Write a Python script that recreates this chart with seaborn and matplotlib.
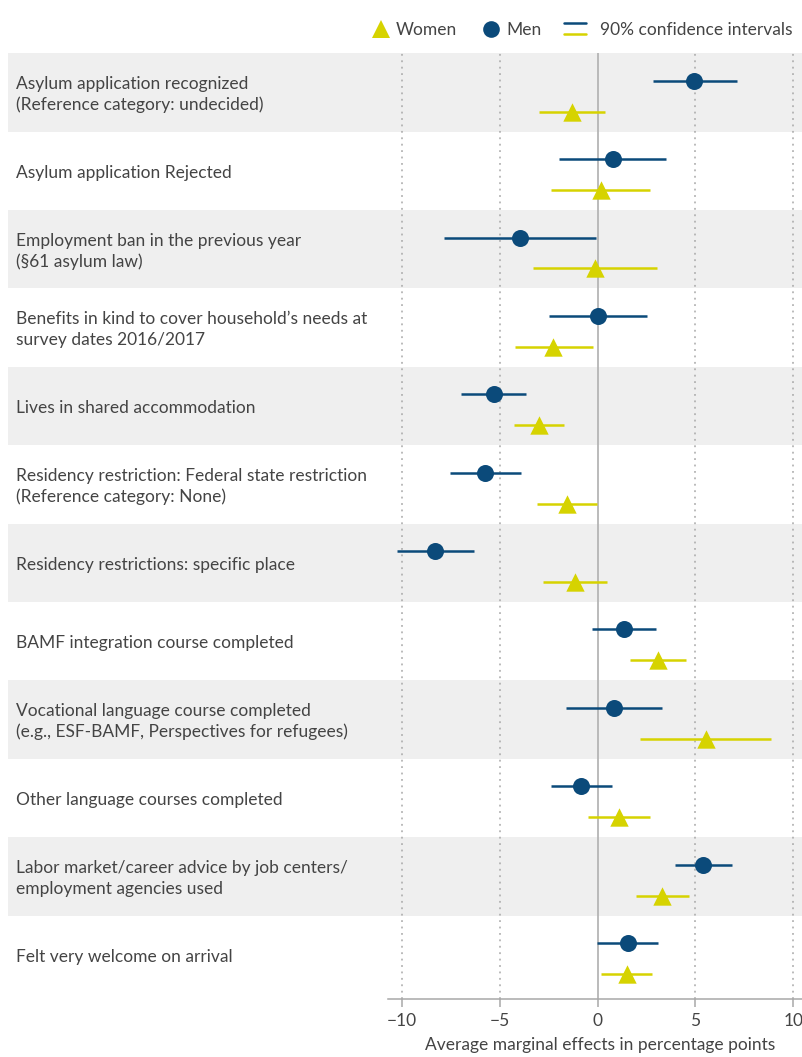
import numpy as np
import pandas as pd
import matplotlib
matplotlib.use("Agg")
import matplotlib.pyplot as plt
from matplotlib.lines import Line2D
from matplotlib.legend_handler import HandlerBase
import matplotlib.transforms as mtransforms
import seaborn as sns

# categories, top to bottom
categories = [
    "Asylum application recognized\n(Reference category: undecided)",
    "Asylum application Rejected",
    "Employment ban in the previous year\n(§61 asylum law)",
    "Benefits in kind to cover household’s needs at\nsurvey dates 2016/2017",
    "Lives in shared accommodation",
    "Residency restriction: Federal state restriction\n(Reference category: None)",
    "Residency restrictions: specific place",
    "BAMF integration course completed",
    "Vocational language course completed\n(e.g., ESF-BAMF, Perspectives for refugees)",
    "Other language courses completed",
    "Labor market/career advice by job centers/\nemployment agencies used",
    "Felt very welcome on arrival",
]

# average marginal effects (percentage points) and 90% CI bounds
men_est = [4.95, 0.77, -3.97, 0.0, -5.30, -5.75, -8.31, 1.33, 0.82, -0.84, 5.40, 1.53]
men_lo = [2.81, -1.96, -7.85, -2.51, -6.98, -7.54, -10.25, -0.29, -1.64, -2.37, 3.95, -0.05]
men_hi = [7.13, 3.49, -0.09, 2.51, -3.65, -3.92, -6.33, 2.97, 3.27, 0.72, 6.89, 3.07]

women_est = [-1.33, 0.15, -0.14, -2.27, -2.99, -1.59, -1.18, 3.08, 5.52, 1.09, 3.31, 1.48]
women_lo = [-3.0, -2.40, -3.29, -4.25, -4.27, -3.12, -2.78, 1.67, 2.16, -0.48, 1.96, 0.17]
women_hi = [0.37, 2.69, 3.02, -0.26, -1.71, -0.05, 0.46, 4.52, 8.88, 2.66, 4.65, 2.79]

xticks = [-10, -5, 0, 5, 10]

NAVY = "#0b4a7a"
YELLOW = "#d6d300"
BAND = "#efefef"
TEXT = "#444444"
GRID = "#a8a8a8"
FS = 12.5

sns.set_theme(style="white")
plt.rcParams["font.family"] = ["Lato", "DejaVu Sans"]

n = len(categories)
rows = np.arange(n)
df = pd.DataFrame({
    "row": np.concatenate([rows - 0.15, rows + 0.245]),
    "est": men_est + women_est,
    "lo": men_lo + women_lo,
    "hi": men_hi + women_hi,
    "sex": ["Men"] * n + ["Women"] * n,
})

W, H = 803, 1057
fig = plt.figure(figsize=(W / 100, H / 100), dpi=100)
ax = fig.add_axes([8 / W, 1 - 998.7 / H, 795 / W, (998.7 - 53.3) / H])

x_left, x_right = -30.16, 10.5
ax.set_xlim(x_left, x_right)
ax.set_ylim(n - 0.44, -0.5)

# alternating row bands
for i in range(0, n, 2):
    ax.axhspan(i - 0.5, i + 0.5, color=BAND, lw=0, zorder=0)

# vertical reference lines
for t in xticks:
    if t == 0:
        ax.axvline(0, color="#b5b5b5", lw=1.3, zorder=1)
    else:
        ax.axvline(t, color=GRID, lw=1.1, ls=(0, (1.2, 3)), zorder=1)

# confidence intervals
palette = {"Men": NAVY, "Women": YELLOW}
for sex, g in df.groupby("sex"):
    ax.hlines(g["row"], g["lo"], g["hi"], color=palette[sex], lw=1.8, zorder=2)

sns.scatterplot(data=df[df.sex == "Men"], x="est", y="row", color=NAVY,
                marker="o", s=150, linewidth=0, zorder=3, ax=ax, legend=False)
sns.scatterplot(data=df[df.sex == "Women"], x="est", y="row", color=YELLOW,
                marker="^", s=175, linewidth=0, zorder=3, ax=ax, legend=False)

# category labels
trans = mtransforms.blended_transform_factory(ax.transAxes, ax.transData)
for i, lab in enumerate(categories):
    ax.text(0.0101, i + 0.025, lab, transform=trans, ha="left", va="center",
            fontsize=FS, color=TEXT, linespacing=1.35)

# axis styling
for s in ["top", "right", "left"]:
    ax.spines[s].set_visible(False)
ax.spines["bottom"].set_color(GRID)
ax.spines["bottom"].set_linewidth(1.1)
ax.spines["bottom"].set_bounds(-10.73, x_right)
ax.set_yticks([])
ax.set_xticks(xticks)
ax.set_xticklabels([str(t).replace("-", "\u2212") for t in xticks])
ax.tick_params(axis="x", bottom=True, length=6, width=1.1, color=GRID,
               labelsize=12.5, labelcolor=TEXT, pad=4)
ax.set_xlabel("Average marginal effects in percentage points", fontsize=FS,
              color=TEXT)
ax.xaxis.set_label_coords((600 - 8) / 795, -(1045 - 998.7) / (998.7 - 53.3))
ax.xaxis.label.set_va("center")
ax.set_ylabel("")


class StackedCI(HandlerBase):
    def create_artists(self, legend, orig_handle, xdescent, ydescent,
                       width, height, fontsize, trans):
        x0, x1 = -xdescent, -xdescent + width
        top = Line2D([x0, x1], [-ydescent + height * 0.95] * 2, color=NAVY,
                     lw=1.8, transform=trans)
        bot = Line2D([x0, x1], [-ydescent + height * 0.05] * 2, color=YELLOW,
                     lw=1.8, transform=trans)
        return [top, bot]


em = FS * 100 / 72  # font size in px
handles = [
    Line2D([], [], marker="^", ls="", color=YELLOW, markersize=13, markeredgewidth=0),
    Line2D([], [], marker="o", ls="", color=NAVY, markersize=12, markeredgewidth=0),
]
fig.legend(handles, ["Women", "Men"], loc="center left",
           bbox_to_anchor=(367 / W, 1 - 30 / H), ncol=2, frameon=False,
           fontsize=FS, handlelength=28 / em, handletextpad=1 / em,
           columnspacing=20 / em, labelcolor=TEXT, borderaxespad=0, borderpad=0)

ci_handle = Line2D([], [])
fig.legend([ci_handle], ["90% confidence intervals"],
           handler_map={ci_handle: StackedCI()}, loc="center left",
           bbox_to_anchor=(564 / W, 1 - 30 / H), frameon=False, fontsize=FS,
           handlelength=22 / em, handletextpad=14 / em, labelcolor=TEXT,
           borderaxespad=0, borderpad=0)

fig.savefig("out.png", dpi=100)
